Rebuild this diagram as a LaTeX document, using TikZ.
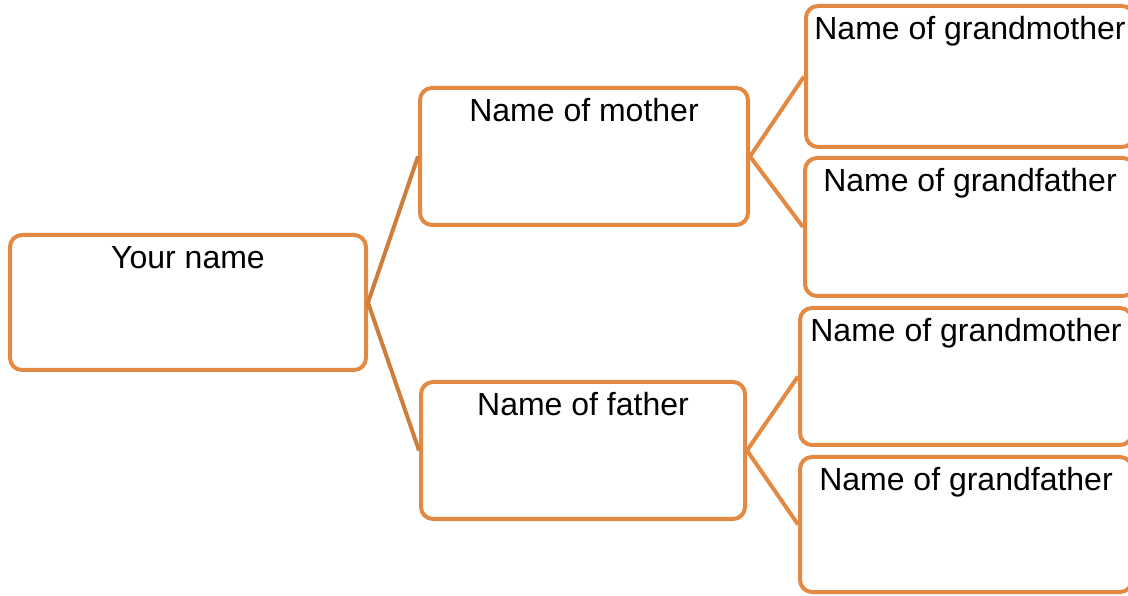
\documentclass[tikz,border=0pt]{standalone}
\usepackage{fontspec}
\setmainfont{Liberation Sans}
\usepackage{tikz}
\usetikzlibrary{positioning}
\definecolor{boxcol}{RGB}{227,137,65}
\definecolor{rootcol}{RGB}{204,126,58}

\begin{document}
\begin{tikzpicture}[x=1pt, y=1pt,
  namebox/.style={draw=boxcol, line width=4pt, rounded corners=12pt, fill=white,
                  inner xsep=0pt, inner ysep=0pt, text height=34pt,
                  font=\fontsize{32}{36}\selectfont},
  link/.style={draw=boxcol, line width=4pt}]
  \useasboundingbox (0,0) rectangle (1128,595);

  % you and parents
  \node[namebox, minimum width=356pt, text depth=101pt] (you) at (188,292.5) {Your name};
  \node[namebox, minimum width=328pt, text depth=103pt] (mother) at (584,438.5) {Name of mother};
  \node[namebox, minimum width=324pt, text depth=103pt] (father) at (583,144.5) {Name of father};

  % grandparents
  \node[namebox, minimum width=328pt, text depth=107pt] (gmother1) at (970,518.5) {Name of grandmother};
  \node[namebox, minimum width=330pt, text depth=104pt] (gfather1) at (970,368) {Name of grandfather};
  \node[namebox, minimum width=332pt, text depth=103pt] (gmother2) at (966,218.5) {Name of grandmother};
  \node[namebox, minimum width=332pt, text depth=101pt] (gfather2) at (966,70.5) {Name of grandfather};

  \foreach \p in {mother, father}
    \draw[link, draw=rootcol] (you.east) -- (\p.west);
  \foreach \p/\g in {mother/gmother1, mother/gfather1, father/gmother2, father/gfather2}
    \draw[link] (\p.east) -- (\g.west);
\end{tikzpicture}
\end{document}
